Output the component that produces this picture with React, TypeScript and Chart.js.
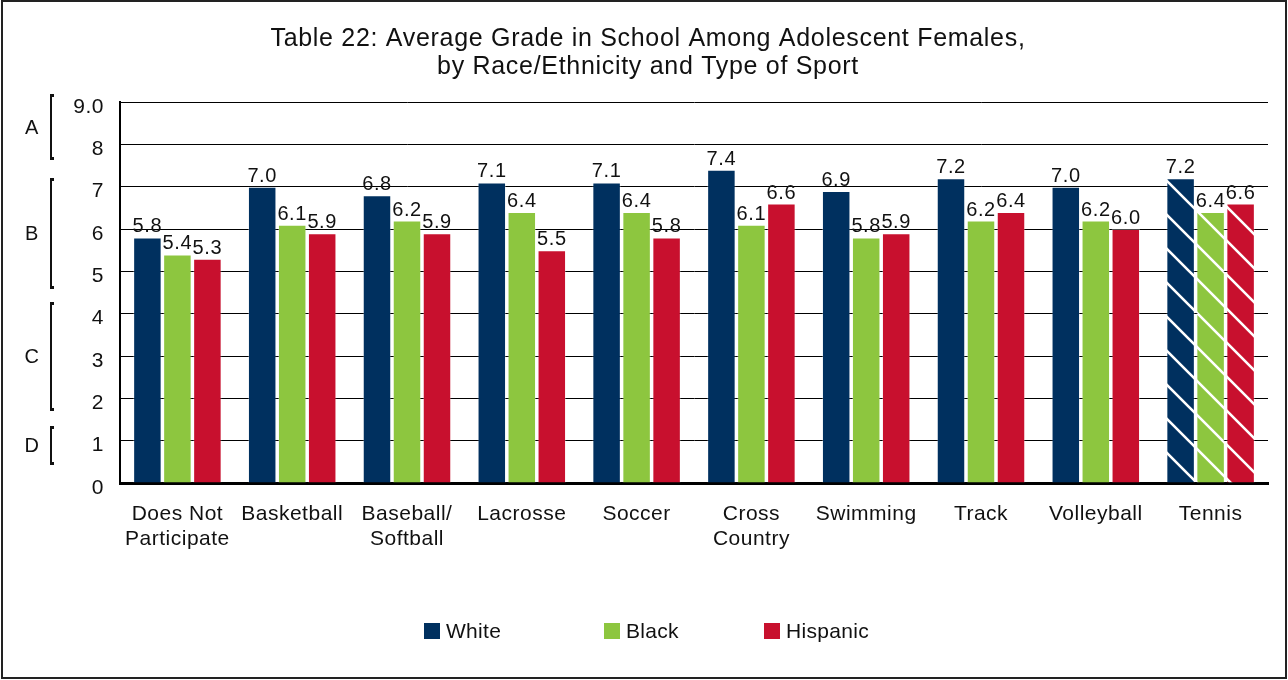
import React, { useEffect, useRef } from 'react';
import { Chart, registerables } from 'chart.js';

Chart.register(...registerables);

const titleLines = [
  'Table 22: Average Grade in School Among Adolescent Females,',
  'by Race/Ethnicity and Type of Sport',
];
const categories: (string | string[])[] = [
  ['Does Not', 'Participate'],
  'Basketball',
  ['Baseball/', 'Softball'],
  'Lacrosse',
  'Soccer',
  ['Cross', 'Country'],
  'Swimming',
  'Track',
  'Volleyball',
  'Tennis',
];
const seriesNames = ['White', 'Black', 'Hispanic'];
const whiteValues = [5.8, 7.0, 6.8, 7.1, 7.1, 7.4, 6.9, 7.2, 7.0, 7.2];
const blackValues = [5.4, 6.1, 6.2, 6.4, 6.4, 6.1, 5.8, 6.2, 6.2, 6.4];
const hispanicValues = [5.3, 5.9, 5.9, 5.5, 5.8, 6.6, 5.9, 6.4, 6.0, 6.6];
const hatchedCategoryIndex = 9;
const yMin = 0;
const yMax = 9;
const gradeLetters = ['A', 'B', 'C', 'D'];
const gradeTop = [9.19, 7.2, 4.28, 1.35];
const gradeBottom = [7.63, 4.58, 1.7, 0.43];

const COLORS = ['#00305f', '#8dc63f', '#c8102e'];
const FONT = '"Liberation Sans", Arial, Helvetica, sans-serif';
const SPACING = '0.5px';

function makeHatch(color: string): CanvasPattern | string {
  const s = 34;
  const c = document.createElement('canvas');
  c.width = s;
  c.height = s;
  const g = c.getContext('2d');
  if (!g) return color;
  g.fillStyle = color;
  g.fillRect(0, 0, s, s);
  g.strokeStyle = '#ffffff';
  g.lineWidth = 2.6;
  g.beginPath();
  g.moveTo(-5, -5);
  g.lineTo(s + 5, s + 5);
  g.moveTo(-5, s - 5);
  g.lineTo(5, s + 5);
  g.moveTo(s - 5, -5);
  g.lineTo(s + 5, 5);
  g.stroke();
  return g.createPattern(c, 'repeat') || color;
}

export default function App() {
  const ref = useRef<HTMLCanvasElement | null>(null);

  useEffect(() => {
    const canvas = ref.current;
    if (!canvas) return;
    const seriesValues = [whiteValues, blackValues, hispanicValues];
    const hatches = COLORS.map((c) => makeHatch(c));

    const overlay = {
      id: 'overlay',
      beforeUpdate(chart: any) {
        chart.ctx.letterSpacing = SPACING;
      },
      beforeDraw(chart: any) {
        const ctx = chart.ctx;
        ctx.letterSpacing = SPACING;
        ctx.save();
        ctx.fillStyle = '#ffffff';
        ctx.fillRect(0, 0, chart.width, chart.height);
        ctx.restore();
      },
      afterDatasetsDraw(chart: any) {
        const ctx = chart.ctx;
        ctx.save();
        ctx.font = `20px ${FONT}`;
        ctx.letterSpacing = '0.6px';
        ctx.fillStyle = '#111111';
        ctx.textAlign = 'center';
        ctx.textBaseline = 'alphabetic';
        chart.data.datasets.forEach((ds: any, di: number) => {
          const meta = chart.getDatasetMeta(di);
          meta.data.forEach((bar: any, i: number) => {
            const v = ds.data[i] as number;
            ctx.fillText(v.toFixed(1), bar.x, bar.y - 5);
          });
        });
        ctx.restore();
      },
      afterDraw(chart: any) {
        const ctx = chart.ctx;
        const yScale = chart.scales.y;
        ctx.save();
        // title
        ctx.fillStyle = '#111111';
        ctx.font = `25px ${FONT}`;
        ctx.letterSpacing = '0.7px';
        ctx.textAlign = 'center';
        ctx.textBaseline = 'alphabetic';
        ctx.fillText(titleLines[0], 648, 46);
        ctx.fillText(titleLines[1], 648, 74);
        ctx.letterSpacing = SPACING;

        // grade brackets
        ctx.font = `20px ${FONT}`;
        ctx.textBaseline = 'middle';
        gradeLetters.forEach((g, i) => {
          const y1 = Math.round(yScale.getPixelForValue(gradeTop[i]));
          const y2 = Math.round(yScale.getPixelForValue(gradeBottom[i]));
          ctx.fillStyle = '#111111';
          ctx.fillRect(50, y1, 2, y2 - y1);
          ctx.fillRect(50, y1, 4, 3);
          ctx.fillRect(50, y2 - 3, 4, 3);
          ctx.fillText(g, 32, (y1 + y2) / 2 + 1);
        });

        // legend
        const legendX = [424, 604, 764];
        ctx.textAlign = 'left';
        ctx.font = `21px ${FONT}`;
        ctx.letterSpacing = '0.3px';
        seriesNames.forEach((name, i) => {
          ctx.fillStyle = COLORS[i];
          ctx.fillRect(legendX[i], 623, 16, 16);
          ctx.fillStyle = '#111111';
          ctx.fillText(name, legendX[i] + 22, 632);
        });

        // frame
        ctx.strokeStyle = '#222222';
        ctx.lineWidth = 2;
        ctx.strokeRect(2, 1, 1284, 677);
        ctx.restore();
      },
    };

    const chart = new Chart(canvas, {
      type: 'bar',
      data: {
        labels: categories,
        datasets: seriesNames.map((name, di) => ({
          label: name,
          data: seriesValues[di],
          backgroundColor: (ctx: any) =>
            ctx.dataIndex === hatchedCategoryIndex ? hatches[di] : COLORS[di],
          borderWidth: 1,
          borderColor: 'rgba(255,255,255,0.3)',
          barPercentage: 0.95,
          categoryPercentage: 0.784,
        })),
      },
      options: {
        responsive: false,
        animation: false,
        events: [],
        layout: { padding: { left: 0, right: 20, top: 102, bottom: 0 } },
        plugins: {
          legend: { display: false },
          title: { display: false },
          tooltip: { enabled: false },
        },
        scales: {
          x: {
            grid: { display: false },
            border: { display: true, color: '#000000', width: 3 },
            ticks: {
              color: '#111111',
              font: { family: FONT, size: 21, lineHeight: 1.17 },
              padding: 11,
              maxRotation: 0,
              autoSkip: false,
            },
            afterFit(scale: any) {
              scale.height = 197;
            },
          },
          y: {
            min: yMin,
            max: yMax,
            grid: { color: '#000000', lineWidth: 1, drawTicks: false },
            border: { display: true, color: '#000000', width: 2 },
            ticks: {
              stepSize: 1,
              color: '#111111',
              font: { family: FONT, size: 21 },
              padding: 16,
              labelOffset: 5,
              callback: (v: any) => (Number(v) === yMax ? yMax.toFixed(1) : String(v)),
            },
            afterFit(scale: any) {
              scale.width = 120;
            },
          },
        },
      },
      plugins: [overlay],
    } as any);

    return () => chart.destroy();
  }, []);

  return (
    <div style={{ position: 'absolute', left: 0, top: 0, width: 1288, height: 680, background: '#fff' }}>
      <canvas ref={ref} width={1288} height={680} style={{ display: 'block', width: 1288, height: 680 }} />
    </div>
  );
}
